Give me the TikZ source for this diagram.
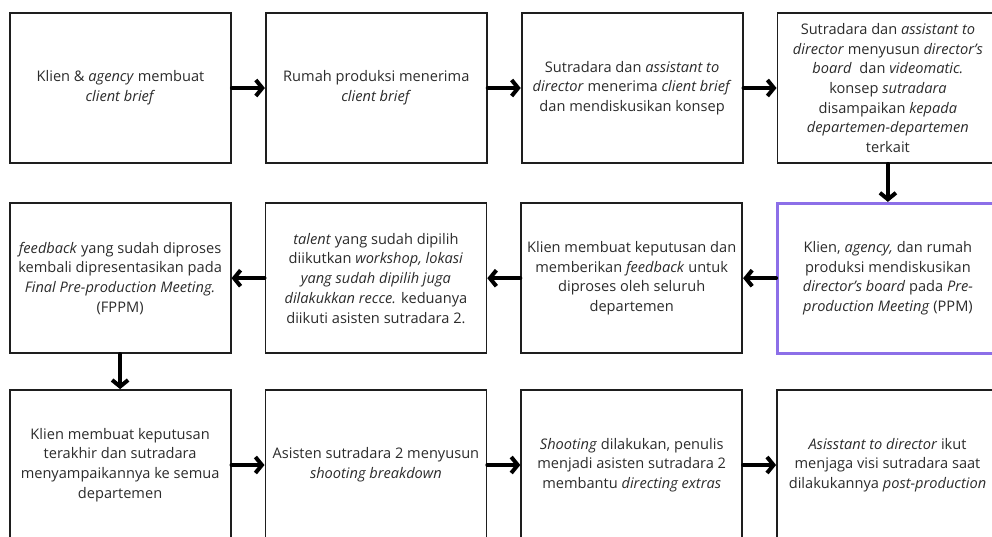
\documentclass[tikz,border=0pt]{standalone}
\usepackage{fontspec}
\setmainfont{Open Sans}
\usetikzlibrary{positioning,arrows.meta}
\definecolor{boxline}{HTML}{1E1E1E}
\definecolor{boxtext}{HTML}{2B2B2B}
\definecolor{ppmpurple}{HTML}{8C6FE8}

\begin{document}
\begin{tikzpicture}[
    node distance=38pt and 33pt,
    box/.style={draw=boxline, line width=1.8pt, minimum width=221pt,
                minimum height=150pt, align=center, text=boxtext,
                font=\fontsize{14.6}{19.7}\selectfont, inner sep=1pt},
    arrow/.style={line width=4pt, -{Straight Barb[length=6.5pt,width=16pt]},
                  line cap=round, line join=round},
]
\useasboundingbox (0,0) rectangle (992pt,-536pt);

% row 1
\node[box] (brief) at (120.5pt,-88pt)
    {Klien \& \textit{agency} membuat\\ \textit{client brief}};
\node[box, right=of brief] (terima)
    {Rumah produksi menerima\\ \textit{client brief}};
\node[box, right=of terima] (konsep)
    {Sutradara dan \textit{assistant to}\\ \textit{director} menerima \textit{client brief}\\
     dan mendiskusikan konsep};
\node[box, right=of konsep] (board)
    {Sutradara dan \textit{assistant to}\\ \textit{director} menyusun \textit{director's}\\
     \textit{board}\ \ dan \textit{videomatic.}\\ konsep \textit{sutradara}\\
     disampaikan \textit{kepada}\\ \textit{departemen-departemen}\\ terkait};

% row 2
\node[box, draw=ppmpurple, line width=2.6pt, below=of board] (ppm)
    {Klien, \textit{agency,} dan rumah\\ produksi mendiskusikan\\
     \textit{director's board} pada \textit{Pre-}\\ \textit{production Meeting} (PPM)};
\node[box, left=of ppm] (feedback)
    {Klien membuat keputusan dan\\ memberikan \textit{feedback} untuk\\
     diproses oleh seluruh\\ departemen};
\node[box, left=of feedback] (recce)
    {\textit{talent} yang sudah dipilih\\ diikutkan \textit{workshop, lokasi}\\
     \textit{yang sudah dipilih juga}\\ \textit{dilakukkan recce.} keduanya\\
     diikuti asisten sutradara 2.};
\node[box, left=of recce] (fppm)
    {\textit{feedback} yang sudah diproses\\ kembali dipresentasikan pada\\
     \textit{Final Pre-production Meeting.}\\ (FPPM)};

% row 3
\node[box, below=35pt of fppm] (final)
    {Klien membuat keputusan\\ terakhir dan sutradara\\
     menyampaikannya ke semua\\ departemen};
\node[box, right=of final] (breakdown)
    {Asisten sutradara 2 menyusun\\ \textit{shooting breakdown}};
\node[box, right=of breakdown] (shooting)
    {\textit{Shooting} dilakukan, penulis\\ menjadi asisten sutradara 2\\
     membantu \textit{directing extras}};
\node[box, right=of shooting] (post)
    {\textit{Asisstant to director} ikut\\ menjaga visi sutradara saat\\
     dilakukannya \textit{post-production}};

% arrows
\draw[arrow] (brief) -- (terima);
\draw[arrow] (terima) -- (konsep);
\draw[arrow] (konsep) -- (board);
\draw[arrow] (board) -- (ppm);
\draw[arrow] (ppm) -- (feedback);
\draw[arrow] (feedback) -- (recce);
\draw[arrow] (recce) -- (fppm);
\draw[arrow] (fppm) -- (final);
\draw[arrow] (final) -- (breakdown);
\draw[arrow] (breakdown) -- (shooting);
\draw[arrow] (shooting) -- (post);

\end{tikzpicture}
\end{document}
